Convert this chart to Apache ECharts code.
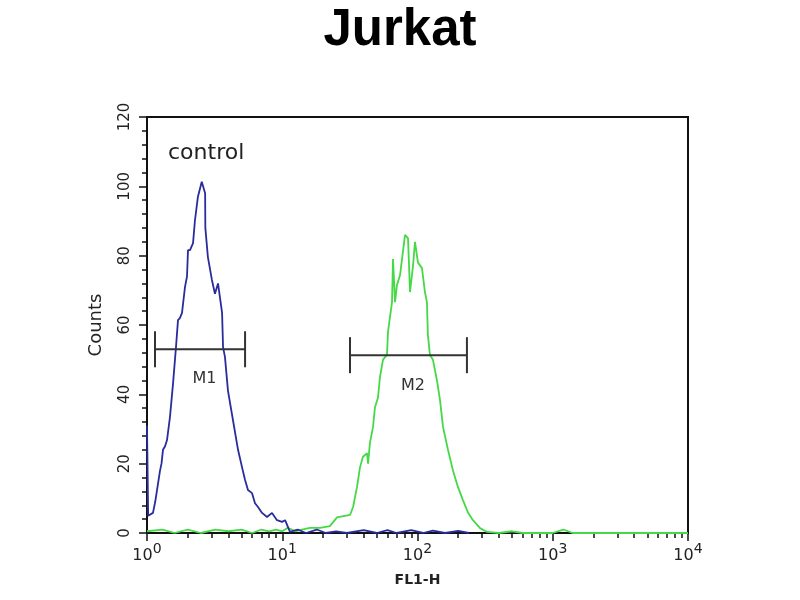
<!DOCTYPE html>
<html>
<head>
    <meta charset="utf-8">
    <title>Jurkat</title>
    <script src="https://cdn.jsdelivr.net/npm/echarts@6/dist/echarts.min.js"></script>
    <style>
        body { margin: 0; background: #fff; }
    </style>
</head>
<body>
<div id="main" style="width: 800px;height:600px;"></div>
<script type="text/javascript">
    // control (blue) histogram: FL1-H value, counts
    var blueX = [1.00, 1.02, 1.05, 1.107, 1.15, 1.186, 1.248, 1.28, 1.313, 1.36, 1.406, 1.479, 1.557, 1.638,
        1.695, 1.75, 1.815, 1.846, 1.91, 1.976, 2.01, 2.08, 2.19, 2.26, 2.38, 2.54, 2.69, 2.70, 2.82, 3.02,
        3.18, 3.35, 3.59, 3.65, 3.77, 3.97, 4.32, 4.71, 5.04, 5.31, 5.58, 5.98, 6.29, 6.62, 7.09, 7.72,
        8.40, 9.15, 9.96, 10.5, 11.4, 13, 15, 18, 21, 25, 30, 40, 50, 60, 70, 90, 110, 130, 160, 200, 240];
    var blueY = [31, 5, 4.6, 5.8, 9, 12.4, 18, 20, 24, 25, 26.8, 33.5, 43, 53.6,
        61.4, 62, 63.5, 66, 71, 74, 81.6, 81.6, 83.6, 90, 97, 101.3, 98, 88, 79.6, 73,
        69, 72, 63.5, 53.6, 50.8, 41, 32.6, 24, 19, 15.3, 12.4, 11.5, 8.6, 7.5, 5.8, 4.6,
        5.8, 3.7, 3.2, 3.7, 0.3, 1, 0, 1, 0, 0.5, 0, 0.8, 0, 0.8, 0, 0.8, 0, 0.7, 0, 0.6, 0];

    // sample (green) histogram
    var greenX = [1.0, 1.3, 1.6, 2, 2.5, 3.2, 4, 5, 6, 7, 8, 9, 10, 11, 12.5, 14, 16, 19, 22.5, 25.4,
        31.7, 33.4, 35.7, 37.6, 39.5, 42.4, 43.1, 44.5, 46.9, 48.5, 51, 52.8, 55.6, 59.5, 60.5, 64.8,
        65.9, 68.2, 70.5, 74.3, 76.8, 80.9, 85.1, 88, 92.6, 95.8, 100.8, 107.9, 113.5, 117.4, 119.4,
        123.6, 130, 139.3, 146.6, 154.4, 168, 182.9, 199, 216.6, 235.6, 257, 290, 326, 400, 500, 600,
        800, 1000, 1200, 1400, 2000, 5000, 10000];
    var greenY = [0.5, 1, 0, 1, 0, 1, 0.5, 1, 0, 1, 0.5, 1, 0.5, 1.5, 0.5, 1, 1.5, 1.5, 2, 4.5,
        5.2, 7.5, 13.3, 19, 22, 23, 20, 26, 30.6, 36.3, 39, 45, 50, 51.4, 58, 66.6,
        79, 66.6, 71.5, 74.4, 79, 86, 85, 69.5, 77, 84, 78, 76.4, 69.5, 66.6, 57,
        51.4, 50, 44, 38.4, 30.6, 24, 18, 13.3, 9.5, 6, 3.7, 1.4, 0.3, 0, 0.5, 0,
        0, 0, 1, 0, 0, 0, 0];

    // gate markers
    var markerNames = ['M1', 'M2'];
    var markerStart = [1.146, 31.7];
    var markerEnd = [5.31, 232];
    var markerLevel = [53, 51.3];
    var markerCap = 5.2;
    var markerLabelY = [44.4, 42.4];

    var yTicks = [0, 20, 40, 60, 80, 100, 120];
    var xMinorTicks = [];
    [1, 10, 100, 1000].forEach(function (d) {
        for (var k = 2; k <= 9; k++) xMinorTicks.push(k * d);
    });

    function pairs(xs, ys) {
        return xs.map(function (x, i) { return [x, ys[i]]; });
    }

    var FONT = 'DejaVu Sans';
    var myChart = echarts.init(document.getElementById('main'));

    var option = {
        backgroundColor: '#fff',
        animation: false,
        title: {
            text: 'Jurkat',
            left: 'center',
            top: 0,
            textStyle: { fontFamily: 'Liberation Sans', fontWeight: 'bold', fontSize: 51, color: '#000' }
        },
        graphic: [{
            type: 'text', left: 168, top: 142,
            style: { text: 'control', font: '22px "DejaVu Sans"', fill: '#222' }
        }],
        grid: {
            left: 147, right: 112, top: 117, bottom: 67,
            show: true, borderColor: '#111', borderWidth: 2, backgroundColor: 'transparent'
        },
        xAxis: [{
            type: 'log', logBase: 10, min: 1, max: 10000,
            name: 'FL1-H', nameLocation: 'middle', nameGap: 40,
            nameTextStyle: { fontFamily: FONT, fontSize: 14, fontWeight: 'bold', color: '#222' },
            axisLine: { lineStyle: { color: '#111', width: 2 } },
            axisTick: { show: true, length: 8, lineStyle: { color: '#111', width: 1.5 } },
            splitLine: { show: false },
            axisLabel: {
                margin: 9,
                formatter: function (v) {
                    return '{a|10}{b|' + Math.round(Math.log10(v)) + '}';
                },
                rich: {
                    a: { fontFamily: FONT, fontSize: 16, color: '#222', lineHeight: 22, verticalAlign: 'bottom' },
                    b: { fontFamily: FONT, fontSize: 14, color: '#222', verticalAlign: 'top' }
                }
            }
        }, {
            type: 'log', logBase: 10, min: 1, max: 10000, position: 'bottom',
            axisLine: { show: false },
            axisLabel: { show: false },
            splitLine: { show: false },
            axisTick: { show: true, length: 5, customValues: xMinorTicks, lineStyle: { color: '#111', width: 1.5 } }
        }],
        yAxis: {
            type: 'value', min: 0, max: 120, interval: 20,
            name: 'Counts', nameLocation: 'middle', nameGap: 42,
            nameTextStyle: { fontFamily: FONT, fontSize: 18, color: '#222' },
            axisLine: { show: true, lineStyle: { color: '#111', width: 2 } },
            axisTick: { show: true, length: 8, lineStyle: { color: '#111', width: 1.5 } },
            minorTick: { show: true, splitNumber: 5, length: 5, lineStyle: { color: '#111', width: 1.5 } },
            splitLine: { show: false },
            axisLabel: {
                rotate: 90, margin: 14,
                fontFamily: FONT, fontSize: 15, color: '#222',
                customValues: yTicks
            }
        },
        series: [{
            name: 'sample',
            type: 'line',
            data: pairs(greenX, greenY),
            showSymbol: false,
            lineStyle: { color: '#45d945', width: 1.8 },
            z: 2
        }, {
            name: 'control',
            type: 'line',
            data: pairs(blueX, blueY),
            showSymbol: false,
            lineStyle: { color: '#2a2c9c', width: 1.8 },
            z: 3
        }, {
            name: 'gates',
            type: 'custom',
            z: 4,
            data: markerNames.map(function (n, i) {
                return [markerStart[i], markerEnd[i], markerLevel[i], markerLabelY[i], n];
            }),
            renderItem: function (params, api) {
                var x1 = api.value(0), x2 = api.value(1), y = api.value(2);
                var a = api.coord([x1, y]);
                var b = api.coord([x2, y]);
                var a1 = api.coord([x1, y + markerCap]);
                var a2 = api.coord([x1, y - markerCap]);
                var b1 = api.coord([x2, y + markerCap]);
                var b2 = api.coord([x2, y - markerCap]);
                var lbl = api.coord([Math.sqrt(x1 * x2) * 1.08, api.value(3)]);
                var st = { stroke: '#333', lineWidth: 2 };
                return {
                    type: 'group',
                    children: [
                        { type: 'line', shape: { x1: a[0], y1: a[1], x2: b[0], y2: b[1] }, style: st },
                        { type: 'line', shape: { x1: a1[0], y1: a1[1], x2: a2[0], y2: a2[1] }, style: st },
                        { type: 'line', shape: { x1: b1[0], y1: b1[1], x2: b2[0], y2: b2[1] }, style: st },
                        { type: 'text', x: lbl[0], y: lbl[1],
                          style: { text: markerNames[params.dataIndex], font: '16px "DejaVu Sans"', fill: '#333',
                                   align: 'center', verticalAlign: 'middle' } }
                    ]
                };
            }
        }]
    };

    myChart.setOption(option);
</script>
</body>
</html>
